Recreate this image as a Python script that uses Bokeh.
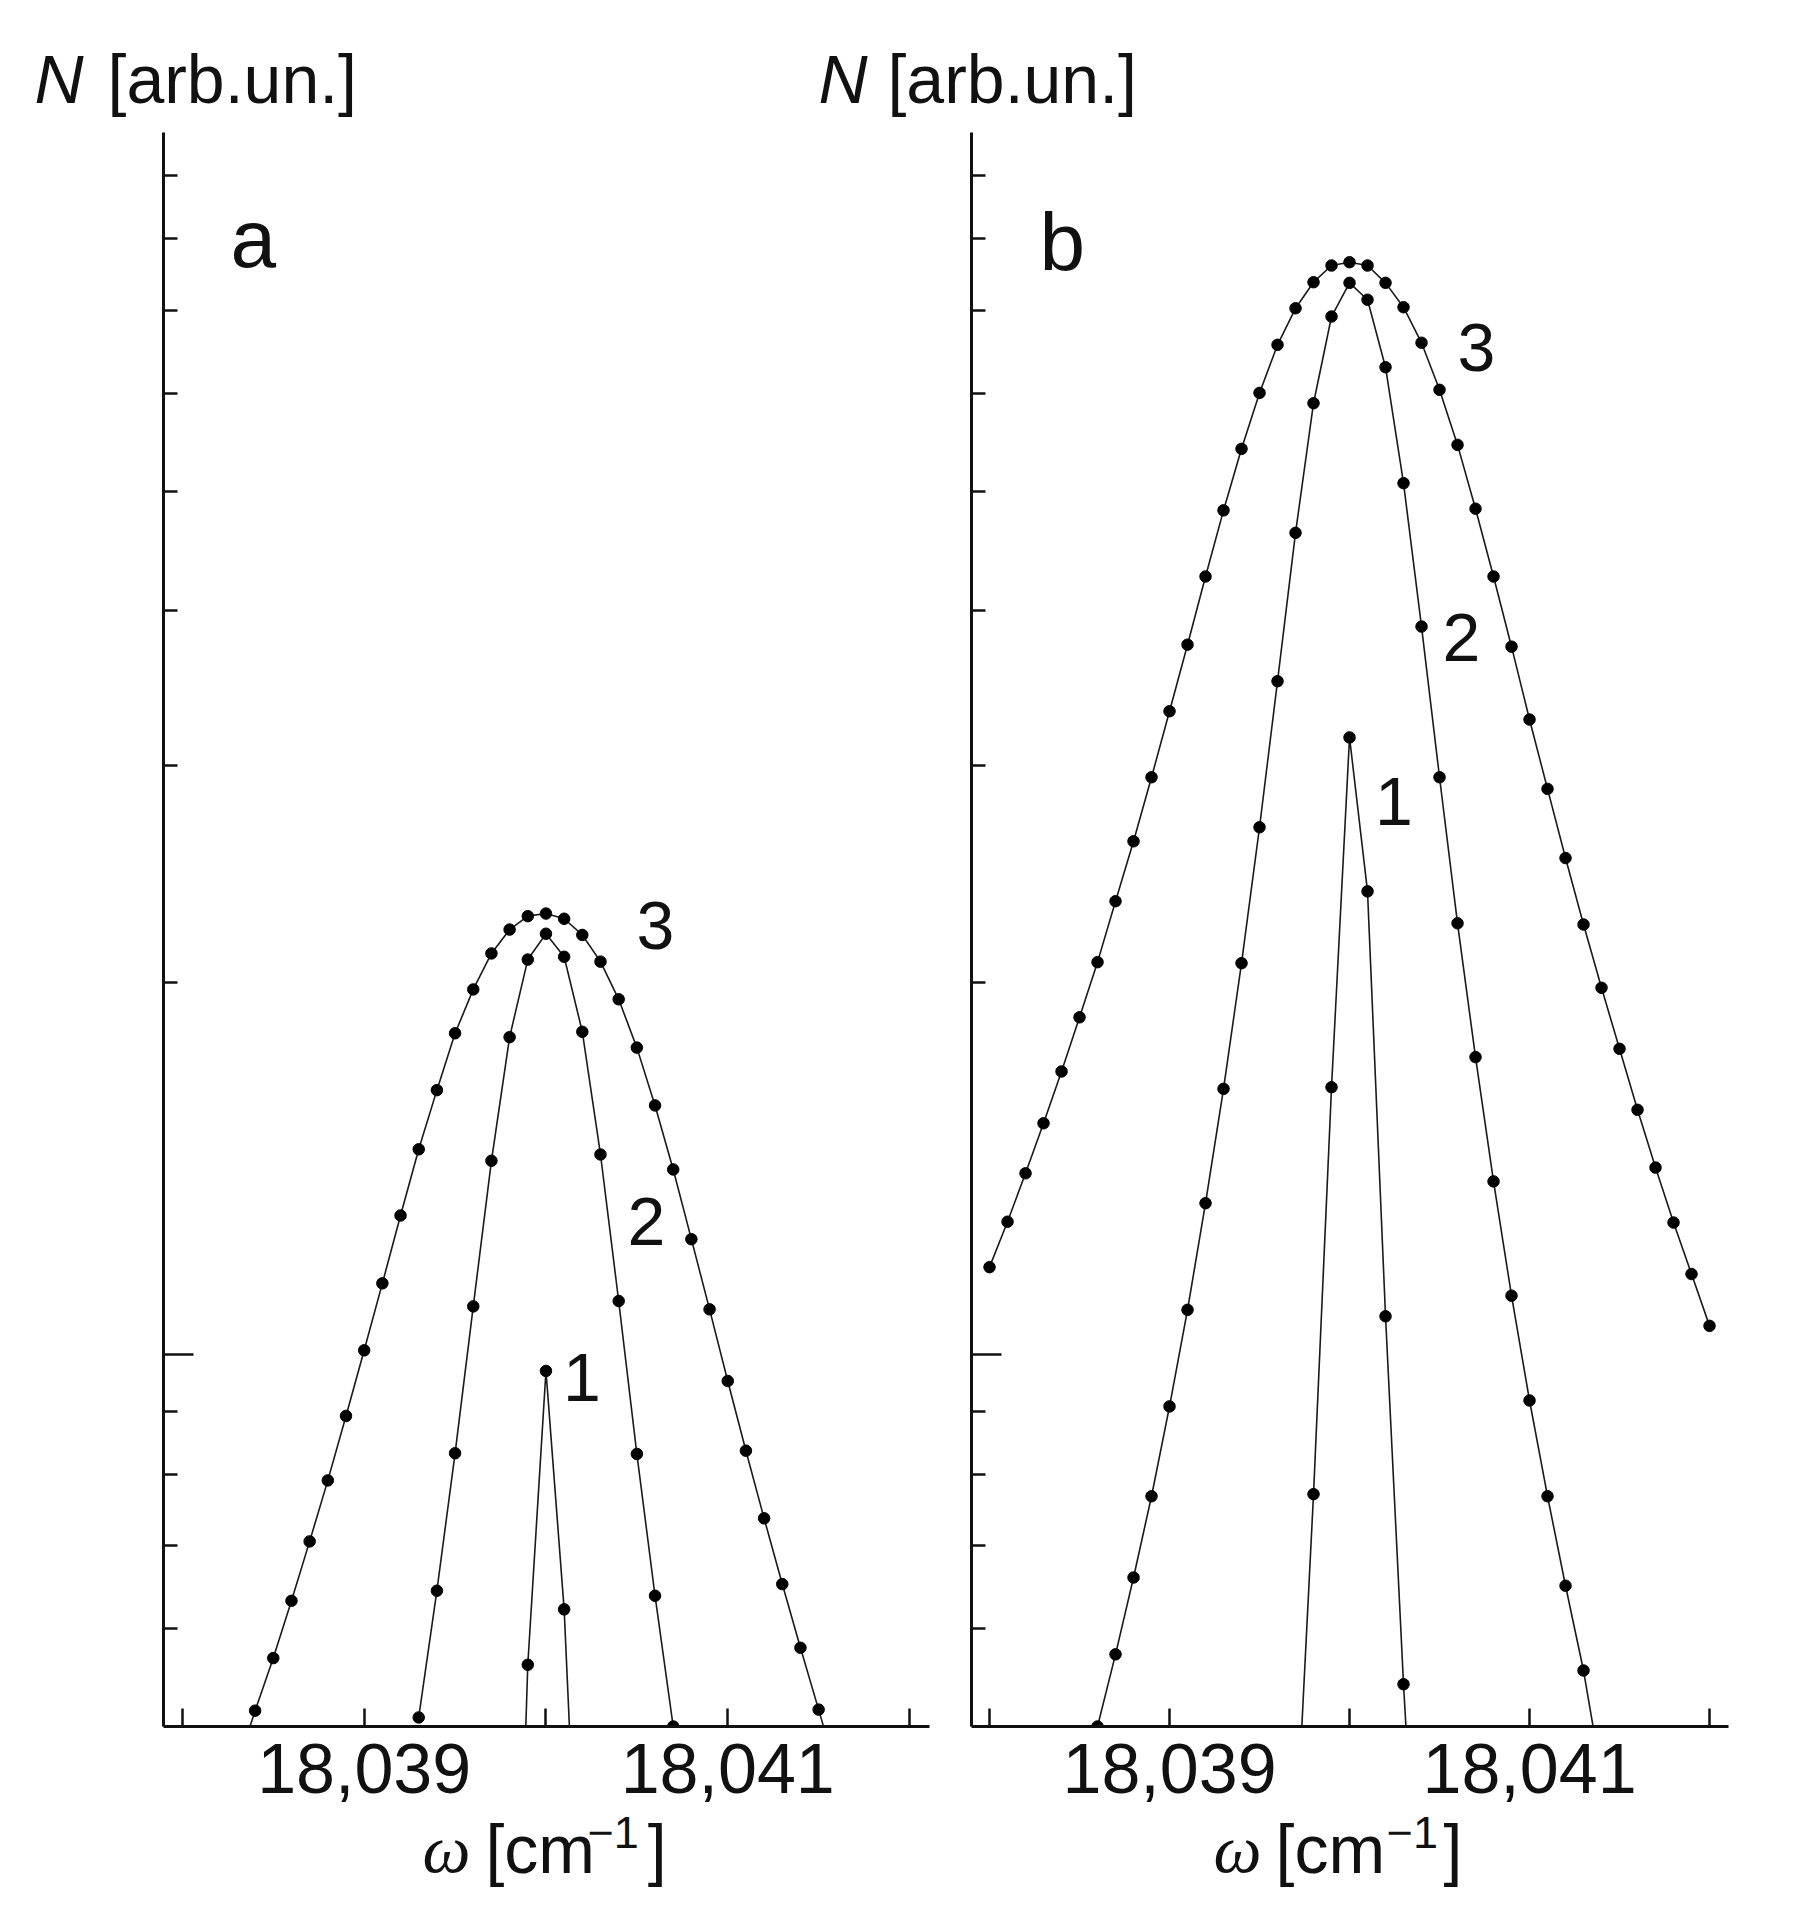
from bokeh.plotting import figure
from bokeh.models import (Range1d, FixedTicker, NumeralTickFormatter, Label,
                          LinearAxis, LogAxis, BoxAnnotation, Grid)
from bokeh.embed import file_html
from bokeh.resources import INLINE

# ---------------- data ----------------
# panel a
a3_x = [18038.3, 18038.4, 18038.5, 18038.6, 18038.7, 18038.8, 18038.9, 18039.0,
        18039.1, 18039.2, 18039.3, 18039.4, 18039.5, 18039.6, 18039.7, 18039.8,
        18039.9, 18040.0, 18040.1, 18040.2, 18040.3, 18040.4, 18040.5, 18040.6,
        18040.7, 18040.8, 18040.9, 18041.0, 18041.1, 18041.2, 18041.3, 18041.4,
        18041.5, 18041.6]
a3_y = [0.464, 0.515, 0.568, 0.632, 0.706, 0.791, 0.892, 1.008,
        1.142, 1.296, 1.466, 1.637, 1.820, 1.975, 2.112, 2.208,
        2.264, 2.275, 2.253, 2.186, 2.080, 1.939, 1.772, 1.591,
        1.412, 1.240, 1.088, 0.952, 0.836, 0.737, 0.652, 0.579,
        0.516, 0.459]

a2_x = [18039.3, 18039.4, 18039.5, 18039.6, 18039.7, 18039.8, 18039.9, 18040.0,
        18040.1, 18040.2, 18040.3, 18040.4, 18040.5, 18040.6, 18040.7]
a2_y = [0.5085, 0.644, 0.832, 1.094, 1.435, 1.807, 2.088, 2.191,
        2.099, 1.825, 1.452, 1.105, 0.831, 0.638, 0.500]

a1_x = [18039.8, 18039.9, 18040.0, 18040.1, 18040.2]
a1_y = [0.195, 0.561, 0.970, 0.622, 0.293]

# panel b
b3_x = [18038.0, 18038.1, 18038.2, 18038.3, 18038.4, 18038.5, 18038.6, 18038.7,
        18038.8, 18038.9, 18039.0, 18039.1, 18039.2, 18039.3, 18039.4, 18039.5,
        18039.6, 18039.7, 18039.8, 18039.9, 18040.0, 18040.1, 18040.2, 18040.3,
        18040.4, 18040.5, 18040.6, 18040.7, 18040.8, 18040.9, 18041.0, 18041.1,
        18041.2, 18041.3, 18041.4, 18041.5, 18041.6, 18041.7, 18041.8, 18041.9,
        18042.0]
b3_y = [1.177, 1.281, 1.402, 1.539, 1.695, 1.875, 2.078, 2.328,
        2.603, 2.933, 3.317, 3.755, 4.264, 4.823, 5.409, 6.003,
        6.566, 7.029, 7.379, 7.612, 7.659, 7.612, 7.370, 7.043,
        6.591, 6.038, 5.449, 4.838, 4.264, 3.741, 3.266, 2.870,
        2.523, 2.229, 1.981, 1.768, 1.578, 1.417, 1.279, 1.162,
        1.055]

b2_x = [18038.6, 18038.7, 18038.8, 18038.9, 18039.0, 18039.1, 18039.2, 18039.3,
        18039.4, 18039.5, 18039.6, 18039.7, 18039.8, 18039.9, 18040.0, 18040.1,
        18040.2, 18040.3, 18040.4, 18040.5, 18040.6, 18040.7, 18040.8, 18040.9,
        18041.0, 18041.1, 18041.2, 18041.3, 18041.4]
b2_y = [0.500, 0.572, 0.660, 0.768, 0.908, 1.087, 1.326, 1.641,
        2.074, 2.672, 3.508, 4.625, 5.889, 6.922, 7.370, 7.141,
        6.298, 5.074, 3.884, 2.933, 2.234, 1.741, 1.381, 1.116,
        0.918, 0.768, 0.650, 0.555, 0.456]

b1_x = [18039.7, 18039.8, 18039.9, 18040.0, 18040.1, 18040.2, 18040.3, 18040.4]
b1_y = [0.396, 0.771, 1.646, 3.159, 2.371, 1.074, 0.541, 0.300]

x_major_ticks = [18039, 18041]
x_minor_ticks = [18038, 18040, 18042]
y_major_ticks = [1]
y_minor_ticks = [0.6, 0.7, 0.8, 0.9, 2, 3, 4, 5, 6, 7, 8, 9]

# axis extents of the two panels
a_x_bounds = (18037.896, 18042.112)
b_x_bounds = (18037.901, 18042.105)
y_bounds = (0.5, 9.76)

SANS = "Liberation Sans"
SERIF = "Liberation Serif"
INK = "#111111"

p = figure(frame_width=1785, frame_height=1915,
           x_range=Range1d(18036.9993, 18046.8189),
           y_range=Range1d(0.35156, 12.474),
           y_axis_type="log", x_axis_location=None, y_axis_location=None,
           min_border=0, title=None, toolbar_location=None,
           output_backend="svg")
p.extra_x_ranges = {"b": Range1d(18032.5054, 18042.4221)}
p.background_fill_color = "white"
p.border_fill_color = "white"
p.outline_line_color = None
for g in p.select(type=Grid):
    g.visible = False


def x_axis(range_name, bounds):
    ax = LinearAxis(x_range_name=range_name, fixed_location=y_bounds[0],
                    bounds=bounds,
                    ticker=FixedTicker(ticks=x_major_ticks, minor_ticks=x_minor_ticks),
                    formatter=NumeralTickFormatter(format="0,0"))
    ax.major_tick_in = 18
    ax.major_tick_out = 0
    ax.minor_tick_in = 18
    ax.minor_tick_out = 0
    ax.axis_line_width = 3
    ax.major_tick_line_width = 2.5
    ax.minor_tick_line_width = 2.5
    ax.axis_line_color = INK
    ax.major_tick_line_color = INK
    ax.minor_tick_line_color = INK
    ax.major_label_text_font = SANS
    ax.major_label_text_font_size = "70px"
    ax.major_label_text_color = INK
    ax.major_label_standoff = 17
    p.add_layout(ax, "below")


def y_axis(range_name, loc):
    ay = LogAxis(x_range_name=range_name, fixed_location=loc, bounds=y_bounds,
                 ticker=FixedTicker(ticks=y_major_ticks, minor_ticks=y_minor_ticks))
    ay.major_tick_in = 30
    ay.major_tick_out = 0
    ay.minor_tick_in = 14
    ay.minor_tick_out = 0
    ay.axis_line_width = 3
    ay.major_tick_line_width = 2.5
    ay.minor_tick_line_width = 2.5
    ay.axis_line_color = INK
    ay.major_tick_line_color = INK
    ay.minor_tick_line_color = INK
    ay.major_label_text_font_size = "10px"
    ay.major_label_text_alpha = 0
    p.add_layout(ay, "left")


def curve(cx, cy, range_name):
    p.line(cx, cy, x_range_name=range_name, line_width=1.6,
           line_color="#1a1a1a", level="underlay")
    p.scatter(cx, cy, x_range_name=range_name, size=11.5,
              fill_color="black", line_color="black", level="underlay")


for cx, cy in [(a3_x, a3_y), (a2_x, a2_y), (a1_x, a1_y)]:
    curve(cx, cy, "default")
for cx, cy in [(b3_x, b3_y), (b2_x, b2_y), (b1_x, b1_y)]:
    curve(cx, cy, "b")

# white mask below the x axes: the plotting area ends at N = 0.5
p.add_layout(BoxAnnotation(top=y_bounds[0], fill_color="white", fill_alpha=1.0,
                           line_color=None, level="glyph"))

x_axis("default", a_x_bounds)
x_axis("b", b_x_bounds)
y_axis("default", a_x_bounds[0])
y_axis("b", b_x_bounds[0])

for g in p.select(type=Grid):
    g.visible = False


def lab(x, y, text, size, rn="default", font=SANS, style="normal"):
    p.add_layout(Label(x=x, y=y, text=text, x_range_name=rn,
                       text_font=font, text_font_size=size,
                       text_font_style=style, text_color=INK,
                       text_align="left", text_baseline="alphabetic"))


# panel a texts
lab(18037.186, 10.767, "N", "68px", style="italic")
lab(18037.588, 10.767, "[arb.un.]", "68px")
lab(18038.265, 8.002, "a", "82px")
lab(18040.498, 2.225, "3", "68px")
lab(18040.449, 1.282, "2", "68px")
lab(18040.094, 0.958, "1", "68px")
lab(18039.321, 0.398, "\u03c9", "68px", font=SERIF, style="italic")
lab(18039.667, 0.398, "[cm", "68px")
lab(18040.229, 0.410, "\u22121", "45px")
lab(18040.56, 0.398, "]", "68px")

# panel b texts
lab(18037.05, 10.767, "N", "68px", "b", style="italic")
lab(18037.433, 10.767, "[arb.un.]", "68px", "b")
lab(18038.278, 7.957, "b", "82px", "b")
lab(18040.60, 6.532, "3", "68px", "b")
lab(18040.517, 3.805, "2", "68px", "b")
lab(18040.141, 2.804, "1", "68px", "b")
lab(18039.244, 0.398, "\u03c9", "68px", "b", font=SERIF, style="italic")
lab(18039.589, 0.398, "[cm", "68px", "b")
lab(18040.206, 0.410, "\u22121", "45px", "b")
lab(18040.522, 0.398, "]", "68px", "b")

open("out.html", "w").write(file_html(p, INLINE))
